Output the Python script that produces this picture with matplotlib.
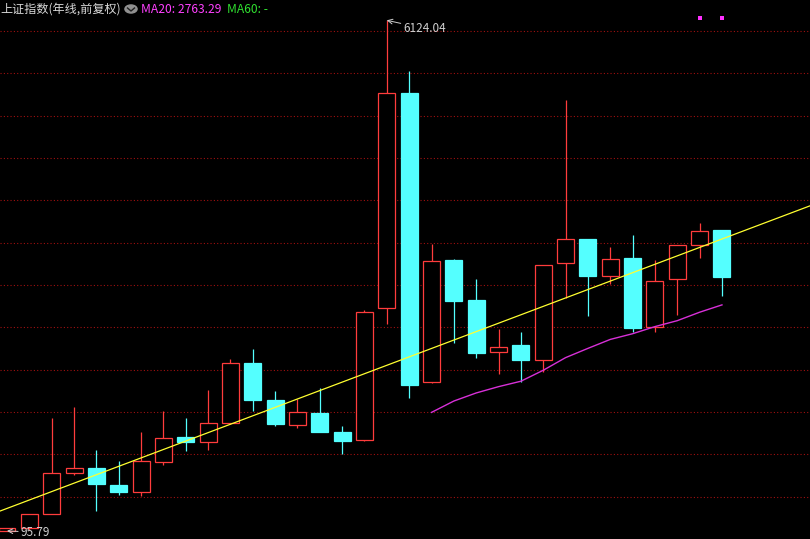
import numpy as np
import pandas as pd
import matplotlib
matplotlib.use("Agg")
import matplotlib.pyplot as plt

plt.rcParams['font.family'] = ['Noto Sans CJK SC', 'DejaVu Sans']

# yearly OHLC, Shanghai Composite 1990-2022
years = list(range(1990, 2023))
opens = [96.05, 127.61, 293.75, 784.13, 837.70, 637.72, 550.26, 914.06, 1200.95,
         1144.89, 1368.69, 2077.08, 1643.48, 1347.43, 1492.72, 1260.78, 1163.88,
         2728.19, 5265.00, 1849.02, 3289.75, 2825.33, 2212.00, 2289.51, 2112.13,
         3258.63, 3536.59, 3105.31, 3314.03, 2497.88, 3066.34, 3474.68, 3649.15]
highs = [127.61, 292.75, 1429.01, 1558.95, 1052.94, 926.41, 1258.69, 1510.18, 1422.98,
         1756.18, 2125.72, 2245.43, 1748.89, 1649.60, 1783.01, 1328.53, 2698.90,
         6124.04, 5522.78, 3478.01, 3306.75, 3067.46, 2478.38, 2444.80, 3239.36,
         5178.19, 3538.69, 3450.49, 3587.03, 3288.45, 3474.92, 3731.69, 3651.89]
lows = [95.79, 105.77, 292.76, 750.46, 325.89, 524.43, 512.83, 870.18, 1043.02,
        1047.83, 1361.21, 1514.86, 1339.20, 1307.40, 1259.43, 998.23, 1161.91,
        2541.53, 1664.93, 1844.09, 2319.74, 2134.02, 1949.46, 1849.65, 1974.38,
        2850.71, 2638.30, 3016.53, 2440.91, 2440.91, 2646.80, 3312.72, 2863.65]
closes = [127.61, 292.75, 780.39, 833.80, 647.87, 555.29, 917.02, 1194.10, 1146.70,
          1366.58, 2073.48, 1645.97, 1357.65, 1497.04, 1266.50, 1161.06, 2675.47,
          5261.56, 1820.81, 3277.14, 2808.08, 2199.42, 2269.13, 2115.98, 3234.68,
          3539.18, 3103.64, 3307.17, 2493.90, 3050.12, 3473.07, 3639.78, 3089.26]

# hand-drawn trend line: two anchor points (candle index, value)
trend_pts = [(0, 361), (32, 3542)]
# two small magenta markers near the top right
dot_idx = [31, 32]
dot_val = [6150, 6150]

RED = '#ff3c3c'
CYAN = '#54ffff'
GRID = '#a01010'

fig = plt.figure(figsize=(8.1, 5.39), dpi=100, facecolor='black')
ax = fig.add_axes([0, 0, 1, 1])
ax.set_facecolor('black')
for s in ax.spines.values():
    s.set_visible(False)
ax.set_xticks([])
ax.set_yticks([])

x = np.arange(len(years))
o = np.array(opens)
h = np.array(highs)
l = np.array(lows)
c = np.array(closes)
up = c >= o

# grid
for v in range(500, 6500, 500):
    ax.axhline(v, color=GRID, lw=0.8, ls=(0, (1, 2)), zorder=0)

w = 0.76
lw = 0.9
# down candles: full wick then filled body
ax.vlines(x[~up], l[~up], h[~up], color=CYAN, lw=lw, zorder=2)
ax.bar(x[~up], (o - c)[~up], bottom=c[~up], width=w, color=CYAN,
       edgecolor=CYAN, lw=lw, zorder=3)
# up candles: hollow body, wicks outside the body
ax.vlines(x[up], c[up], h[up], color=RED, lw=lw, zorder=2)
ax.vlines(x[up], l[up], o[up], color=RED, lw=lw, zorder=2)
ax.bar(x[up], (c - o)[up], bottom=o[up], width=w, facecolor='black',
       edgecolor=RED, lw=lw, zorder=3)

# MA20
ma20 = pd.Series(closes).rolling(20).mean()
ax.plot(x, ma20, color='#d830d8', lw=1.0, zorder=4)

# trend line
ax.axline(trend_pts[0], trend_pts[1], color='#ffff30', lw=0.9, zorder=5)

ax.scatter(dot_idx, dot_val, marker='s', s=7, color='#ff30ff', lw=0, zorder=5)

# max / min annotations
imax = int(np.argmax(h))
imin = int(np.argmin(l))
ax.annotate('%.2f' % h[imax], xy=(x[imax], h[imax]), xytext=(12, -6),
            textcoords='offset points', color='#d0d0d0', fontsize=8.5,
            va='center', ha='left',
            arrowprops=dict(arrowstyle='->', color='#d0d0d0', lw=0.7,
                            shrinkA=0, shrinkB=0))
ax.annotate('%.2f' % l[imin], xy=(x[imin], l[imin]), xytext=(10, -1),
            textcoords='offset points', color='#d0d0d0', fontsize=8.5,
            va='center', ha='left',
            arrowprops=dict(arrowstyle='->', color='#d0d0d0', lw=0.7,
                            shrinkA=0, shrinkB=0))

ax.set_xlim(-0.313, 35.94)
ax.set_ylim(0, 6364)

# header
fig.text(0.0, 0.983, '上证指数(年线,前复权)', color='#d8d8d8', fontsize=8.7,
         va='center', ha='left')
fig.patches.append(plt.Circle((131 / 810, 1 - 9 / 539), 0.0075,
                              transform=fig.transFigure, color='#909090'))
fig.lines.append(plt.Line2D([127.5 / 810, 131 / 810, 134.5 / 810],
                            [1 - 8 / 539, 1 - 11 / 539, 1 - 8 / 539],
                            transform=fig.transFigure, color='#202020', lw=1.0))
fig.text(141 / 810, 0.983, 'MA20: %.2f' % 2763.29, color='#ff40ff',
         fontsize=8.7, va='center', ha='left')
fig.text(227 / 810, 0.983, 'MA60: -', color='#30e030', fontsize=8.7,
         va='center', ha='left')

fig.savefig('out.png', dpi=100, facecolor='black')
